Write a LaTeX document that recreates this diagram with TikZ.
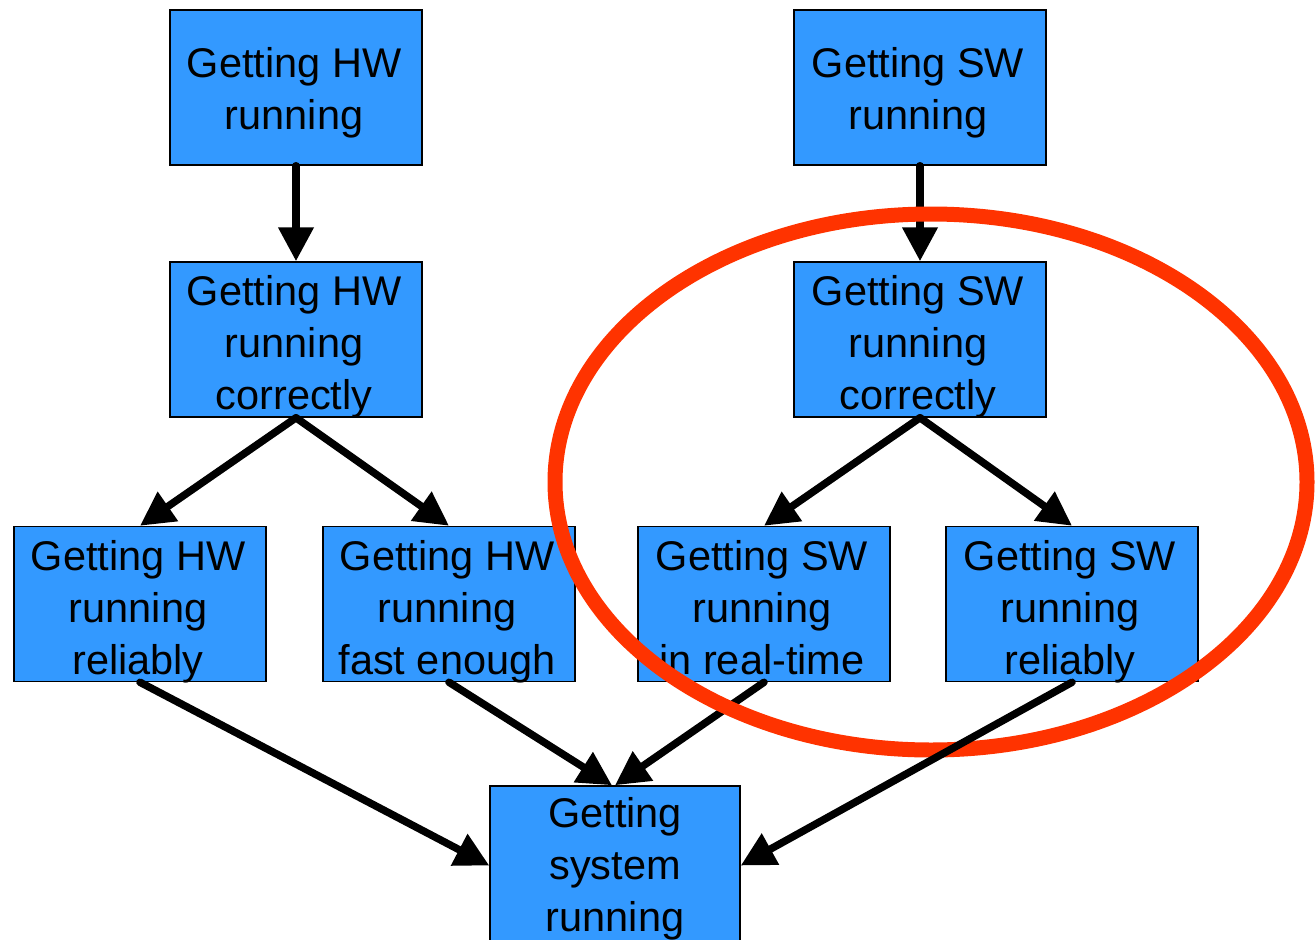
\documentclass[tikz,border=0pt]{standalone}
\usepackage{fontspec}
\setmainfont{Liberation Sans}
\usetikzlibrary{arrows.meta}
\definecolor{boxblue}{HTML}{3399FF}
\definecolor{ringred}{HTML}{FF3300}
\tikzset{
  box/.style={draw=black, line width=1.5pt, fill=boxblue, minimum width=252pt, minimum height=155pt, inner sep=0pt},
  txt/.style={inner sep=0pt, anchor=base, font=\fontsize{41.5}{52}\selectfont},
  conn/.style={line width=7.5pt, line cap=round, -{Triangle[length=34pt,width=34pt]}},
  ring/.style={draw=ringred, line width=15pt}
}
\newcommand{\lines}[1]{\begin{tabular}[t]{@{}c@{}}#1\end{tabular}}
\begin{document}
\begin{tikzpicture}[x=1pt,y=-1pt]
\useasboundingbox (0,0) rectangle (1315,940);
\clip (0,0) rectangle (1315,940);
% boxes
\node[box] (hw1) at (296,87.5) {};
\node[box] (sw1) at (920,87.5) {};
\node[box] (hw2) at (296,339.5) {};
\node[box] (sw2) at (920,339.5) {};
\node[box] (hw3a) at (140,604) {};
\node[box] (hw3b) at (449,604) {};
\node[box] (sw3a) at (764,604) {};
\node[box] (sw3b) at (1072,604) {};
\node[box, minimum width=250pt] (bot) at (615,863.5) {};
% texts
\node[txt] (t1) at ([xshift=-2pt,yshift=10pt]hw1.center) {\lines{Getting HW\\running}};
\node[txt] (t2) at ([xshift=-2pt,yshift=10pt]sw1.center) {\lines{Getting SW\\running}};
\node[txt] (t3) at ([xshift=-2pt,yshift=34pt]hw2.center) {\lines{Getting HW\\running\\correctly}};
\node[txt] (t4) at ([xshift=-2pt,yshift=34pt]sw2.center) {\lines{Getting SW\\running\\correctly}};
\node[txt] (t5) at ([xshift=-2pt,yshift=33.5pt]hw3a.center) {\lines{Getting HW\\running\\reliably}};
\node[txt] (t6) at ([xshift=-2pt,yshift=33.5pt]hw3b.center) {\lines{Getting HW\\running\\fast enough}};
\node[txt] (t7) at ([xshift=-2pt,yshift=33.5pt]sw3a.center) {\lines{Getting SW\\running\\in real-time}};
\node[txt] (t8) at ([xshift=-2pt,yshift=33.5pt]sw3b.center) {\lines{Getting SW\\running\\reliably}};
\node[txt] (t9) at ([yshift=36pt]bot.center) {\lines{Getting\\system\\running}};
% connectors
\draw[conn] (hw1.south) -- (hw2.north);
\draw[conn] (sw1.south) -- (sw2.north);
\draw[conn] (hw2.south) -- (hw3a.north);
\draw[conn] (hw2.south) -- (hw3b.north);
\draw[conn] (sw2.south) -- (sw3a.north);
\draw[conn] (sw2.south) -- (sw3b.north);
\draw[conn] (hw3a.south) -- ([yshift=-2pt]bot.west);
\draw[conn] (hw3b.south) -- ([xshift=-3pt]bot.north);
\draw[conn] (sw3a.south) -- (bot.north);
% highlight ring
\draw[ring] (931,482) ellipse [x radius=376, y radius=268];
\draw[conn] (sw3b.south) -- ([yshift=-2pt]bot.east);
\end{tikzpicture}
\end{document}
